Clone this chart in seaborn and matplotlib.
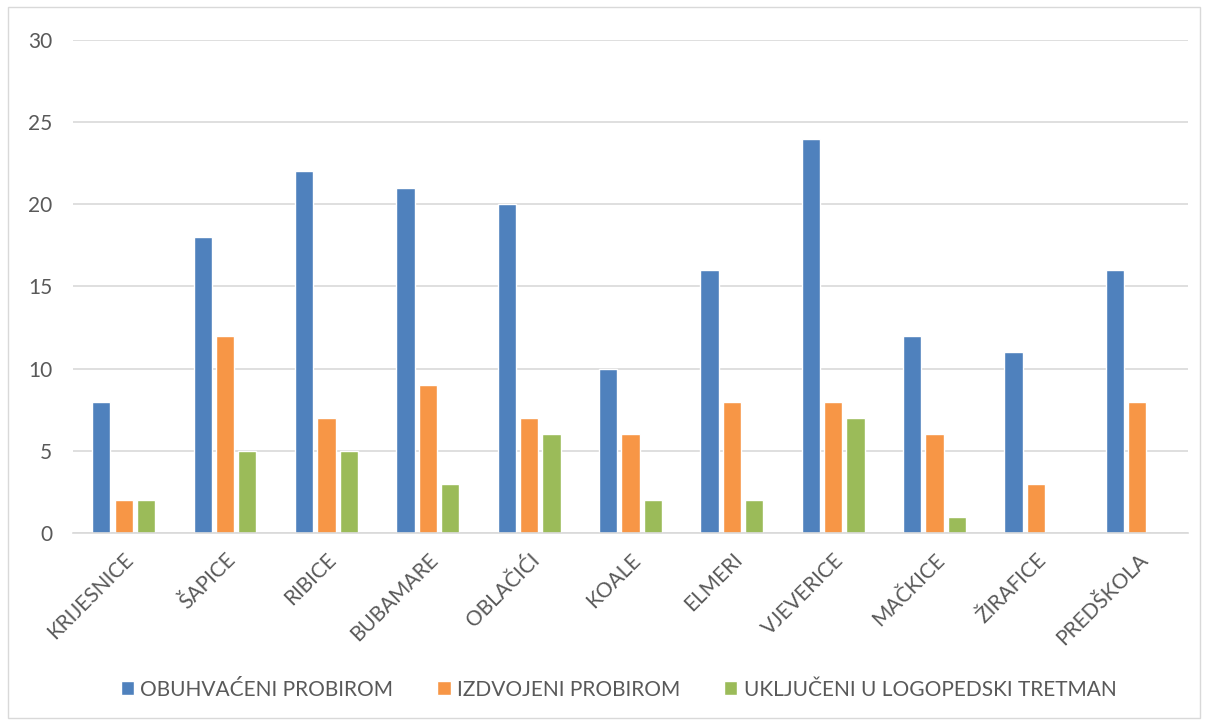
import pandas as pd
import matplotlib.pyplot as plt
import seaborn as sns
from matplotlib.patches import Rectangle

# podaci po skupinama
skupine = ['KRIJESNICE', 'ŠAPICE', 'RIBICE', 'BUBAMARE', 'OBLAČIĆI', 'KOALE',
           'ELMERI', 'VJEVERICE', 'MAČKICE', 'ŽIRAFICE', 'PREDŠKOLA']
obuhvaceni = [8, 18, 22, 21, 20, 10, 16, 24, 12, 11, 16]
izdvojeni = [2, 12, 7, 9, 7, 6, 8, 8, 6, 3, 8]
ukljuceni = [2, 5, 5, 3, 6, 2, 2, 7, 1, 0, 0]
serije = ['OBUHVAĆENI PROBIROM', 'IZDVOJENI PROBIROM', 'UKLJUČENI U LOGOPEDSKI TRETMAN']
boje = ['#4F81BD', '#F79646', '#9BBB59']

df = pd.DataFrame({'Skupina': skupine, serije[0]: obuhvaceni,
                   serije[1]: izdvojeni, serije[2]: ukljuceni})
df = df.melt(id_vars='Skupina', var_name='Serija', value_name='Broj')

sns.set_style('white')
plt.rcParams['font.family'] = ['Lato', 'DejaVu Sans']

fig = plt.figure(figsize=(12.08, 7.22), dpi=100)
ax = fig.add_axes([0.0604, 0.2618, 0.923, 0.6828])

sns.barplot(data=df, x='Skupina', y='Broj', hue='Serija', palette=boje,
            saturation=1, width=0.66, gap=0.18, ax=ax, legend=True)

ax.set_ylim(0, 30)
ax.set_yticks(range(0, 31, 5))
ax.set_xlim(-0.5, len(skupine) - 0.5)
ax.yaxis.grid(True, color='#d9d9d9', linewidth=1.2)
ax.set_axisbelow(True)
for s in ['top', 'right', 'left']:
    ax.spines[s].set_visible(False)
ax.spines['bottom'].set_color('#d9d9d9')
ax.spines['bottom'].set_linewidth(1.2)
ax.set_xlabel('')
ax.set_ylabel('')
ax.tick_params(axis='both', length=0, labelsize=15, labelcolor='#595959')
ax.tick_params(axis='y', pad=15)
ax.tick_params(axis='x', pad=12)
plt.setp(ax.get_xticklabels(), rotation=45, ha='right', rotation_mode='anchor')

ax.legend(loc='center', bbox_to_anchor=(0.512, 0.045), bbox_transform=fig.transFigure,
          ncol=3, frameon=False, fontsize=15, labelcolor='#595959',
          handlelength=0.65, handleheight=0.65, handletextpad=0.3, columnspacing=2.1)

fig.patches.append(Rectangle((0.007, 0.005), 0.986, 0.985, transform=fig.transFigure,
                             fill=False, edgecolor='#d9d9d9', linewidth=1))

fig.savefig('out.png', dpi=100)
